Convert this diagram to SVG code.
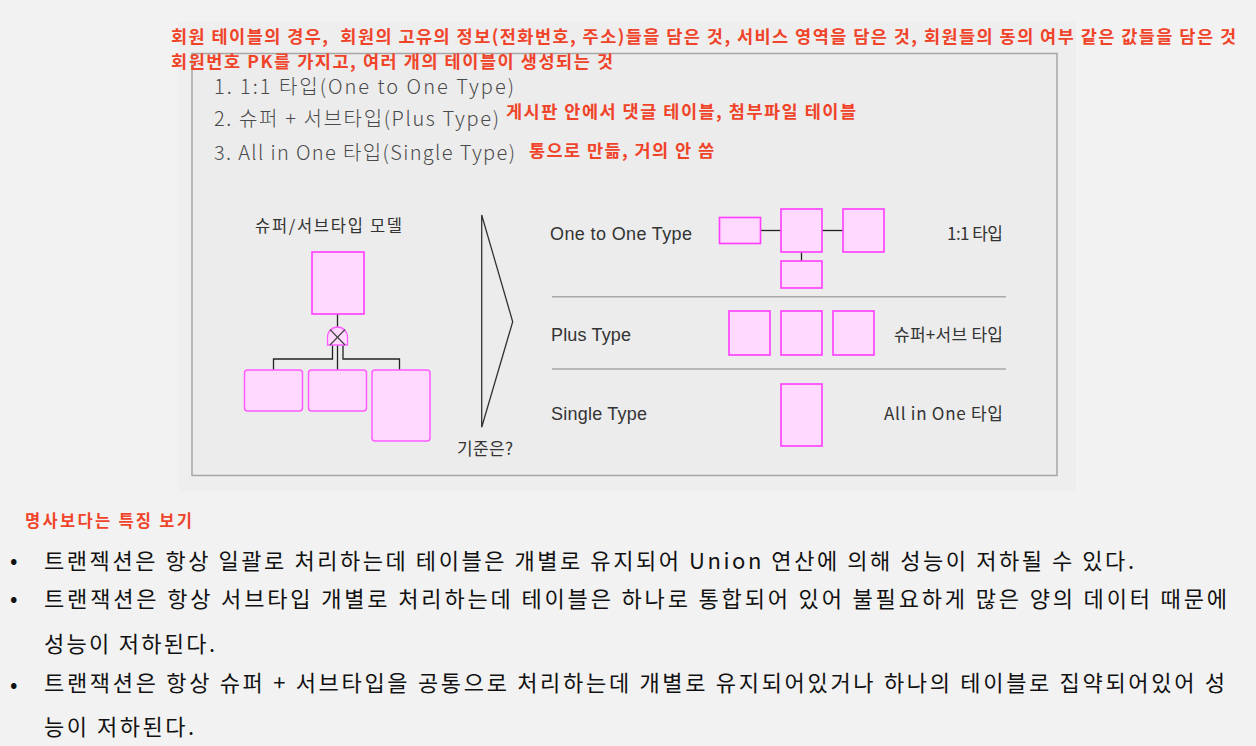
<svg xmlns="http://www.w3.org/2000/svg" width="1256" height="746" viewBox="0 0 1256 746">
<defs>
<style>
.red{fill:#f0442a;font-family:"Noto Sans CJK KR","Liberation Sans",sans-serif;font-weight:bold;}
.gray{fill:#4a4a4a;font-family:"Noto Sans CJK KR","Liberation Sans",sans-serif;font-weight:300;font-size:20px;}
.lbl{fill:#333333;font-family:"Liberation Sans","Noto Sans CJK KR",sans-serif;}
.klbl{fill:#333333;font-family:"Noto Sans CJK KR","Liberation Sans",sans-serif;}
.body{fill:#111111;font-family:"Noto Sans CJK KR","Liberation Sans",sans-serif;font-size:22px;}
.pk{fill:#ffd9ff;stroke:#ff3cff;stroke-width:1.6;}
.pkr{fill:#ffd9ff;stroke:#ff5cff;stroke-width:1.5;}
.ln{stroke:#222222;stroke-width:1.3;fill:none;}
.sep{stroke:#a8a8a8;stroke-width:1.5;}
</style>
</defs>
<rect x="0" y="0" width="1256" height="746" fill="#f2f2f2"/>
<rect x="178" y="22" width="898" height="469" fill="#eeeeee"/>
<rect id="frame" x="192" y="53.5" width="865" height="422" fill="#ececec" stroke="#a6a6a6" stroke-width="1.5"/>

<g id="notes-top">
<text class="red" x="171" y="43" font-size="17.5" textLength="1065" lengthAdjust="spacing" xml:space="preserve">회원 테이블의 경우,  회원의 고유의 정보(전화번호, 주소)들을 담은 것, 서비스 영역을 담은 것, 회원들의 동의 여부 같은 값들을 담은 것</text>
<text class="red" x="171" y="68" font-size="17.5" textLength="442" lengthAdjust="spacing">회원번호 PK를 가지고, 여러 개의 테이블이 생성되는 것</text>
</g>

<g id="list">
<text class="gray" x="214" y="94" textLength="300" lengthAdjust="spacing">1. 1:1 타입(One to One Type)</text>
<text class="gray" x="214" y="126" textLength="285" lengthAdjust="spacing">2. 슈퍼 + 서브타입(Plus Type)</text>
<text class="gray" x="214" y="160" textLength="301" lengthAdjust="spacing">3. All in One 타입(Single Type)</text>
<text class="red" x="506" y="118" font-size="17.5" textLength="350" lengthAdjust="spacing">게시판 안에서 댓글 테이블, 첨부파일 테이블</text>
<text class="red" x="529" y="157" font-size="17.5" textLength="185" lengthAdjust="spacing">통으로 만듦, 거의 안 씀</text>
</g>

<g id="connectors">
<line class="ln" x1="337.5" y1="314" x2="337.5" y2="327"/>
<polyline class="ln" points="332.5,345 332.5,359 273.5,359 273.5,370"/>
<line class="ln" x1="337.5" y1="345" x2="337.5" y2="370"/>
<polyline class="ln" points="343,345 343,359 399.5,359 399.5,370"/>
<line class="ln" x1="760" y1="230.5" x2="781" y2="230.5"/>
<line class="ln" x1="822" y1="230.5" x2="843" y2="230.5"/>
<line class="ln" x1="801.5" y1="252" x2="801.5" y2="261"/>
</g>

<g id="supersub-model">
<text class="klbl" x="255" y="232" font-size="16.5" textLength="147" lengthAdjust="spacing">슈퍼/서브타입 모델</text>
<g id="super"><rect class="pk" x="312" y="252" width="52" height="62"/></g>
<g id="subtype-symbol">
<path d="M327.5,345 V337 A10,10 0 0 1 347.5,337 V345 Z" fill="#ffd9ff" stroke="#ff5cff" stroke-width="1.3"/>
<line x1="330" y1="329.5" x2="345" y2="345" stroke="#444" stroke-width="1.2"/>
<line x1="345" y1="329.5" x2="330" y2="345" stroke="#444" stroke-width="1.2"/>
</g>
<g id="sub1"><rect class="pkr" x="244.5" y="370" width="58" height="41" rx="3"/></g>
<g id="sub2"><rect class="pkr" x="308.5" y="370" width="58" height="41" rx="3"/></g>
<g id="sub3"><rect class="pkr" x="372" y="370" width="58" height="71" rx="3"/></g>
</g>

<g id="chevron">
<polygon points="481.7,215 512.7,321.7 481.7,427.3" fill="none" stroke="#333" stroke-width="1.3"/>
<text class="klbl" x="457" y="455" font-size="17" textLength="56" lengthAdjust="spacing">기준은?</text>
</g>

<g id="one-to-one">
<text class="lbl" x="550" y="240" font-size="18" textLength="142" lengthAdjust="spacing">One to One Type</text>
<rect class="pk" x="719.5" y="217.5" width="41" height="26"/>
<rect class="pk" x="781" y="209" width="41" height="43"/>
<rect class="pk" x="843" y="209" width="41" height="43"/>
<rect class="pk" x="781" y="261" width="41" height="27"/>
<text class="klbl" x="947" y="240" font-size="17" textLength="56" lengthAdjust="spacing">1:1 타입</text>
</g>
<line class="sep" x1="552" y1="296.7" x2="1006" y2="296.7"/>

<g id="plus-type">
<text class="lbl" x="551" y="341" font-size="18" textLength="80" lengthAdjust="spacing">Plus Type</text>
<rect class="pk" x="729" y="311" width="41" height="44"/>
<rect class="pk" x="781" y="311" width="41" height="44"/>
<rect class="pk" x="833" y="311" width="41" height="44"/>
<text class="klbl" x="894" y="341" font-size="17" textLength="109" lengthAdjust="spacing">슈퍼+서브 타입</text>
</g>
<line class="sep" x1="552" y1="369" x2="1006" y2="369"/>

<g id="single-type">
<text class="lbl" x="551" y="420" font-size="18" textLength="96" lengthAdjust="spacing">Single Type</text>
<rect class="pk" x="781" y="384" width="41" height="62"/>
<text class="klbl" x="884" y="420" font-size="17" textLength="119" lengthAdjust="spacing">All in One 타입</text>
</g>

<g id="notes-bottom">
<text class="red" x="25" y="527" font-size="16.5" textLength="167" lengthAdjust="spacing">명사보다는 특징 보기</text>
<text class="body" x="10" y="568" font-family="Liberation Sans" font-size="18">•</text>
<text class="body" x="10" y="606" font-family="Liberation Sans" font-size="18">•</text>
<text class="body" x="10" y="692" font-family="Liberation Sans" font-size="18">•</text>
<text class="body" x="44" y="569" textLength="1090" lengthAdjust="spacing">트랜젝션은 항상 일괄로 처리하는데 테이블은 개별로 유지되어 Union 연산에 의해 성능이 저하될 수 있다.</text>
<text class="body" x="44" y="607" textLength="1183" lengthAdjust="spacing">트랜잭션은 항상 서브타입 개별로 처리하는데 테이블은 하나로 통합되어 있어 불필요하게 많은 양의 데이터 때문에</text>
<text class="body" x="44" y="652" textLength="171" lengthAdjust="spacing">성능이 저하된다.</text>
<text class="body" x="44" y="691" textLength="1181" lengthAdjust="spacing">트랜잭션은 항상 슈퍼 + 서브타입을 공통으로 처리하는데 개별로 유지되어있거나 하나의 테이블로 집약되어있어 성</text>
<text class="body" x="44" y="735" textLength="150" lengthAdjust="spacing">능이 저하된다.</text>
</g>
</svg>
